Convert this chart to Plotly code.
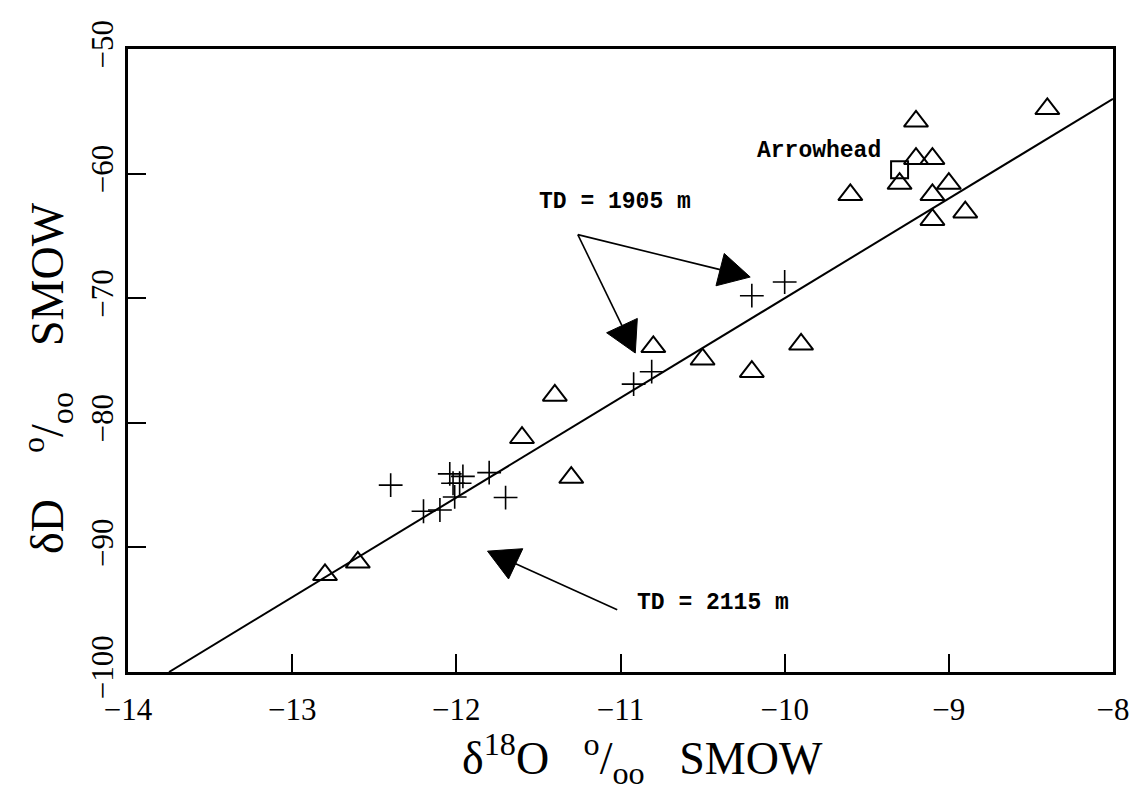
import math
import plotly.graph_objects as go

# Triangles (samples)
tri_x = [-12.8, -12.6, -11.6, -11.4, -11.3, -10.8, -10.5, -10.2, -9.9,
         -9.6, -9.3, -9.2, -9.2, -9.1, -9.0, -9.1, -8.9, -9.1, -8.4]
tri_y = [-92.2, -91.2, -81.2, -77.8, -84.4, -73.9, -74.9, -75.9, -73.7,
         -61.7, -60.8, -55.8, -58.8, -58.8, -60.8, -61.7, -63.1, -63.7, -54.8]

# Crosses (well samples)
crs_x = [-12.4, -12.2, -12.1, -12.04, -11.96, -12.02, -11.98, -12.01,
         -11.8, -11.7, -10.92, -10.81, -10.2, -10.0]
crs_y = [-85.0, -87.1, -87.0, -84.1, -84.3, -84.85, -84.85, -85.95,
         -84.0, -86.0, -76.9, -75.9, -69.8, -68.7]

# Arrowhead sample
sq_x = [-9.3]
sq_y = [-59.7]

# Meteoric water line dD = 8 d18O + 10
mwl_x = [-13.75, -8.0]
mwl_y = [8 * v + 10 for v in mwl_x]

# Arrows: tail -> tip
arrow_tail_x = [-11.26, -11.26, -11.02]
arrow_tail_y = [-64.9, -64.9, -95.0]
arrow_tip_x = [-10.21, -10.91, -11.81]
arrow_tip_y = [-68.3, -74.4, -90.3]

W, H = 1139, 793
ML, MR, MT, MB = 120, 34, 28, 129
xr, yr = [-14, -8], [-100, -50]
sx = (W - ML - MR) / (xr[1] - xr[0])   # px per unit
sy = (H - MT - MB) / (yr[1] - yr[0])

fig = go.Figure()
fig.add_trace(go.Scatter(x=mwl_x, y=mwl_y, mode="lines",
                         line=dict(color="black", width=2), showlegend=False))
fig.add_trace(go.Scatter(x=tri_x, y=tri_y, mode="markers",
                         marker=dict(symbol="triangle-up-open", size=21,
                                     color="black", line=dict(width=2)),
                         showlegend=False))
fig.add_trace(go.Scatter(x=crs_x, y=crs_y, mode="markers",
                         marker=dict(symbol="cross-thin-open", size=17,
                                     color="black", line=dict(width=1.6, color="black")),
                         showlegend=False))
fig.add_trace(go.Scatter(x=sq_x, y=sq_y, mode="markers",
                         marker=dict(symbol="square-open", size=17,
                                     color="black", line=dict(width=2)),
                         showlegend=False))

# arrows with big filled heads
head_len, head_half = 31, 17
for tx, ty, hx, hy in zip(arrow_tail_x, arrow_tail_y, arrow_tip_x, arrow_tip_y):
    dx, dy = (hx - tx) * sx, (hy - ty) * sy
    d = math.hypot(dx, dy)
    ux, uy = dx / d, dy / d
    bx, by = hx - head_len * ux / sx, hy - head_len * uy / sy
    c1 = (bx - head_half * uy / sx, by + head_half * ux / sy)
    c2 = (bx + head_half * uy / sx, by - head_half * ux / sy)
    fig.add_trace(go.Scatter(x=[tx, bx], y=[ty, by], mode="lines",
                             line=dict(color="black", width=1.6), showlegend=False))
    fig.add_trace(go.Scatter(x=[hx, c1[0], c2[0], hx], y=[hy, c1[1], c2[1], hy],
                             mode="lines", fill="toself", fillcolor="black",
                             line=dict(color="black", width=1), showlegend=False))

afont = dict(family="Liberation Mono", size=23, color="black")
fig.add_annotation(x=-11.51, y=-62.3, text="<b>TD = 1905 m</b>", showarrow=False,
                   xanchor="left", yanchor="middle", font=afont)
fig.add_annotation(x=-10.91, y=-94.5, text="<b>TD = 2115 m</b>", showarrow=False,
                   xanchor="left", yanchor="middle", font=afont)
fig.add_annotation(x=-9.40, y=-58.2, text="<b>Arrowhead</b>", showarrow=False,
                   xanchor="right", yanchor="middle", font=afont)

title_font = dict(family="Liberation Serif", size=46, color="black")
fig.add_annotation(x=0.522, y=0, xref="paper", yref="paper", yshift=-86,
                   text="\u03b4<sup>18</sup>O   <sup>o</sup>/<sub>oo</sub>   SMOW",
                   showarrow=False, xanchor="center", yanchor="middle", font=title_font)
fig.add_annotation(x=0, y=0.472, xref="paper", yref="paper", xshift=-80,
                   text="\u03b4D    <sup>o</sup>/<sub>oo</sub>    SMOW", textangle=-90,
                   showarrow=False, xanchor="center", yanchor="middle", font=title_font)

tfont = dict(family="Liberation Serif", size=31, color="black")
fig.update_xaxes(range=xr, tickvals=[-14, -13, -12, -11, -10, -9, -8],
                 ticktext=["\u221214", "\u221213", "\u221212", "\u221211",
                           "\u221210", "\u22129", "\u22128"],
                 ticks="inside", ticklen=18, tickwidth=2, tickcolor="black",
                 ticklabelstandoff=8, ticklabeloverflow="allow",
                 showline=True, linewidth=3, linecolor="black", mirror=True,
                 showgrid=False, zeroline=False, tickfont=tfont)
fig.update_yaxes(range=yr, tickvals=[-100, -90, -80, -70, -60, -50],
                 ticktext=["\u2212100", "\u221290", "\u221280", "\u221270",
                           "\u221260", "\u221250"],
                 tickangle=-90, ticklabeloverflow="allow",
                 ticks="inside", ticklen=18, tickwidth=2, tickcolor="black",
                 showline=True, linewidth=3, linecolor="black", mirror=True,
                 showgrid=False, zeroline=False, tickfont=tfont)

fig.update_layout(width=W, height=H, plot_bgcolor="white", paper_bgcolor="white",
                  margin=dict(l=ML, r=MR, t=MT, b=MB), showlegend=False)

fig.write_html("out.html")
